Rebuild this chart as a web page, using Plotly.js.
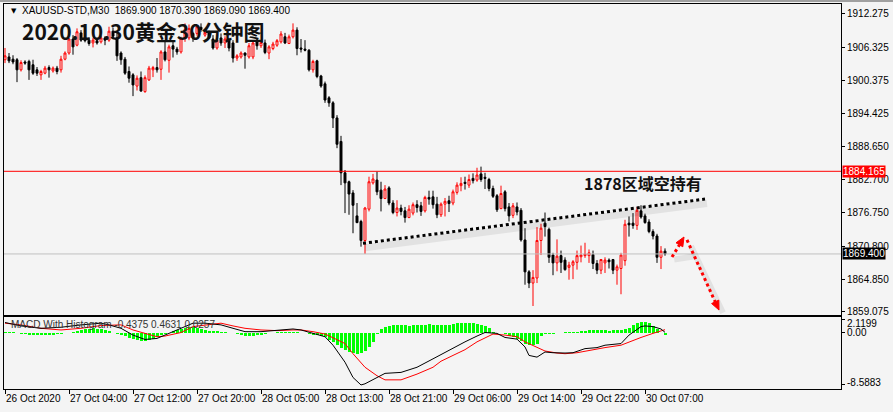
<!DOCTYPE html>
<html><head><meta charset="utf-8">
<script src="https://cdn.plot.ly/plotly-3.0.1.min.js"></script>
<style>html,body{margin:0;padding:0;background:#f4f4f4;}#chart{width:893px;height:412px;}</style>
</head><body><div id="chart"></div>
<script>
// ---- price data (M30 bars, index 0 = 26 Oct 2020 first bar) ----
const openP = [1904.1,1904.6,1904.2,1904.1,1902.3,1903.7,1903.8,1903.2,1902.3,1901.4,1901.7,1902.7,1902.1,1902.6,1902.3,1904.2,1905.3,1907.8,1906.7,1908.9,
1908.0,1907.6,1907.1,1907.5,1907.3,1908.0,1907.6,1909.2,1908.0,1905.3,1904.2,1902.0,1901.4,1899.4,1900.9,1898.4,1900.5,1902.3,1902.7,1902.4,
1905.5,1904.0,1906.6,1906.0,1905.5,1907.9,1908.0,1908.8,1908.8,1909.9,1908.5,1909.0,1907.8,1906.2,1908.0,1907.1,1907.6,1907.1,1904.4,1904.6,
1905.3,1904.6,1904.6,1907.3,1906.6,1907.1,1905.3,1906.1,1906.7,1907.3,1908.2,1907.0,1908.2,1909.4,1906.2,1906.0,1905.8,1902.3,1903.9,1901.2,
1899.8,1897.3,1896.4,1893.7,1889.5,1883.9,1882.3,1880.3,1876.2,1875.2,1871.8,1877.4,1882.1,1882.6,1880.8,1879.3,1881.2,1878.5,1876.8,1877.6,
1877.1,1875.9,1876.7,1878.2,1878.0,1877.1,1879.5,1879.6,1878.3,1876.4,1878.3,1878.9,1878.5,1880.4,1881.6,1882.2,1881.7,1882.9,1882.6,1883.7,
1883.1,1882.7,1881.1,1879.8,1877.5,1880.5,1877.8,1876.3,1877.8,1877.2,1871.9,1866.2,1864.2,1865.1,1871.8,1874.9,1873.8,1869.2,1867.8,1869.1,
1868.3,1867.0,1867.4,1867.9,1868.9,1869.1,1869.1,1869.3,1867.7,1866.5,1867.8,1868.3,1868.4,1866.5,1866.8,1868.2,1874.9,1874.9,1874.5,1877.1,
1876.2,1875.1,1873.4,1872.6,1868.8,1869.9];
const highP = [1906.2,1905.3,1904.9,1904.4,1904.0,1904.0,1904.1,1904.1,1902.8,1902.3,1903.0,1903.1,1902.9,1903.0,1904.8,1905.6,1908.0,1908.5,1909.7,1909.4,
1908.3,1908.1,1908.0,1907.9,1908.4,1908.3,1910.0,1909.8,1908.9,1905.6,1904.6,1902.9,1901.7,1901.3,1902.0,1901.3,1903.0,1903.0,1904.4,1905.8,
1907.3,1906.8,1907.5,1906.4,1908.2,1910.6,1910.4,1909.1,1910.3,1910.6,1909.4,1909.3,1908.5,1908.1,1908.8,1908.3,1908.0,1907.6,1905.1,1905.6,
1905.4,1907.1,1907.6,1908.0,1907.6,1907.7,1906.7,1907.3,1907.8,1909.2,1908.9,1908.6,1910.6,1909.9,1907.8,1907.6,1906.0,1904.1,1904.1,1901.4,
1900.2,1897.6,1896.7,1894.2,1890.5,1884.4,1882.5,1880.8,1878.5,1875.5,1877.8,1883.2,1883.7,1884.1,1882.3,1881.7,1881.5,1879.0,1879.0,1878.2,
1877.8,1878.1,1878.6,1879.0,1878.7,1879.8,1880.7,1880.7,1879.6,1878.6,1879.4,1879.8,1880.9,1882.2,1883.1,1883.2,1883.6,1883.8,1884.8,1885.0,
1883.9,1883.0,1881.6,1880.1,1881.6,1880.8,1878.5,1878.5,1878.6,1877.6,1874.0,1866.5,1866.5,1874.2,1874.8,1876.8,1874.1,1869.6,1872.0,1870.0,
1868.8,1868.0,1868.3,1870.0,1870.9,1871.4,1870.2,1870.0,1868.3,1868.5,1868.8,1868.6,1868.5,1867.5,1869.6,1875.5,1876.1,1876.7,1877.8,1878.1,
1876.6,1875.6,1873.8,1873.0,1870.8,1870.39];
const lowP = [1903.5,1903.5,1903.3,1900.1,1902.0,1903.2,1900.5,1901.4,1901.2,1900.5,1901.5,1900.9,1901.8,1901.5,1901.8,1904.0,1905.0,1905.0,1906.5,1907.3,
1907.2,1906.6,1906.3,1906.8,1907.0,1906.7,1907.3,1907.8,1903.9,1903.2,1901.4,1900.0,1897.6,1898.6,1898.4,1898.2,1900.3,1901.0,1901.8,1900.5,
1903.8,1901.8,1904.5,1905.0,1905.2,1907.3,1907.6,1907.3,1908.4,1909.1,1908.2,1907.8,1905.9,1905.9,1906.6,1906.2,1905.6,1903.6,1903.9,1904.3,
1902.5,1904.3,1904.2,1905.9,1906.2,1905.1,1904.2,1905.8,1906.4,1907.0,1906.9,1906.9,1907.9,1904.9,1905.4,1905.6,1902.0,1901.8,1900.8,1899.1,
1896.4,1895.7,1891.9,1888.3,1881.7,1876.7,1876.4,1873.1,1874.9,1870.7,1869.4,1877.0,1881.8,1879.9,1877.0,1879.2,1878.1,1876.5,1876.1,1876.3,
1875.0,1875.8,1876.3,1876.8,1876.2,1876.8,1878.2,1877.5,1875.8,1876.0,1876.1,1876.9,1878.1,1880.0,1880.6,1880.9,1881.2,1882.0,1882.3,1882.3,
1881.0,1880.6,1879.4,1876.9,1877.4,1877.0,1875.2,1875.8,1876.3,1871.6,1863.9,1863.3,1860.1,1864.2,1869.2,1872.5,1867.8,1865.6,1866.3,1866.0,
1866.4,1864.8,1864.9,1866.6,1867.9,1868.7,1867.8,1866.7,1865.8,1865.8,1866.0,1866.8,1865.8,1863.9,1862.2,1867.3,1872.5,1873.9,1873.7,1875.7,
1874.8,1873.1,1872.0,1867.8,1866.7,1869.09];
const closeP = [1904.8,1903.9,1903.7,1902.3,1903.6,1903.5,1902.3,1901.7,1901.7,1902.0,1902.6,1902.3,1902.6,1902.0,1904.2,1905.3,1907.8,1906.4,1909.1,1907.6,
1907.5,1907.0,1907.6,1907.1,1908.0,1907.6,1909.2,1908.3,1904.8,1904.1,1901.7,1900.8,1899.6,1900.8,1898.5,1900.9,1902.6,1902.7,1902.3,1905.5,
1904.1,1906.4,1906.0,1905.5,1907.9,1909.5,1909.7,1908.0,1910.0,1909.5,1909.0,1908.0,1906.2,1907.6,1907.1,1907.8,1906.2,1904.4,1904.8,1905.3,
1904.9,1906.6,1907.1,1906.6,1907.2,1905.4,1906.4,1906.9,1907.5,1908.7,1907.1,1908.2,1909.4,1906.1,1906.0,1905.8,1902.3,1903.8,1901.1,1899.4,
1896.9,1896.4,1893.7,1889.0,1883.9,1882.1,1880.1,1878.1,1875.0,1871.8,1877.6,1882.3,1882.8,1880.5,1879.3,1881.0,1878.5,1876.8,1877.6,1877.0,
1875.9,1877.4,1878.2,1877.7,1877.0,1879.5,1879.2,1878.2,1876.4,1878.3,1878.8,1878.4,1880.5,1881.7,1882.0,1882.0,1882.7,1882.5,1883.5,1882.7,
1882.9,1881.1,1879.7,1877.3,1880.2,1877.5,1876.2,1878.0,1876.9,1871.9,1866.2,1864.2,1865.2,1871.8,1874.0,1874.3,1868.8,1867.8,1869.0,1867.9,
1866.6,1867.4,1868.0,1869.1,1869.2,1869.4,1869.6,1867.7,1866.5,1868.4,1868.3,1868.0,1866.5,1867.1,1869.2,1874.7,1874.6,1874.5,1877.2,1876.0,
1875.0,1873.4,1872.6,1868.8,1869.9,1869.4];

// ---- MACD panel ----
const histV = [0.1,0.1,0.05,0.0,
-0.2,-0.3,-0.35,-0.4,-0.45,-0.45,-0.45,-0.4,-0.35,-0.3,
-0.2,-0.1,0.0,0.15,
0.3,0.45,0.55,0.65,0.7,0.65,0.55,0.45,
0.2,0.0,-0.2,-0.35,
-0.6,-0.9,-1.1,-1.3,-1.4,-1.45,-1.3,-1.0,
-0.7,-0.45,-0.25,-0.05,
0.2,0.4,0.6,0.75,0.85,0.9,0.8,0.6,0.4,
0.3,0.25,0.2,0.15,0.1,0.0,-0.15,
-0.3,-0.45,-0.55,-0.6,-0.55,-0.45,-0.35,-0.25,
-0.15,-0.05,0.05,0.1,0.15,0.1,0.05,0.05,0.0,-0.05,
-0.2,-0.35,-0.45,-0.55,
-0.8,-1.2,-1.6,-2.1,-2.6,-2.9,-3.2,-3.4,-3.5,-3.4,-3.0,-2.3,-1.5,-0.3,
0.6,0.9,1.1,1.2,1.25,1.2,1.15,1.1,1.15,1.2,1.25,1.3,1.35,1.3,1.25,1.2,1.2,
1.3,1.4,1.5,1.55,1.55,1.55,1.5,1.45,1.3,1.0,0.7,
0.1,0.0,-0.05,
-0.2,-0.5,-0.8,-1.0,-1.4,-1.8,-2.1,-2.1,-1.9,-0.6,-0.3,-0.3,-0.2,
0.0,0.0,0.05,0.05,0.05,0.1,0.2,
0.3,0.35,0.4,0.45,0.4,0.35,0.3,0.35,0.4,0.4,0.5,
0.8,1.2,1.5,1.8,1.8,1.6,
1.0,0.5,-0.1,-0.4375];
const macdIdx = [0,4,9,14,19,24,26,29,32,35,38,40,44,47,50,54,57,60,64,68,72,74,77,80,82,85,87,89,90,93,95,99,103,107,109,112,115,118,120,123,125,128,130,131,133,135,137,140,142,145,148,150,154,156,159,160,162,164,165];
const macdV = [1.64,1.08,0.69,0.86,1.25,1.53,1.25,0.69,-0.42,-1.14,-0.97,-0.42,0.69,1.53,1.53,1.25,0.69,0.14,0.14,0.31,0.58,0.42,-0.14,-0.69,-2.08,-4.86,-7.36,-8.59,-8.4,-7.36,-6.69,-6.53,-5.69,-4.31,-3.6,-2.47,-1.53,-0.58,0,-0.14,-0.81,-1.08,-2.36,-3.75,-4.03,-3.19,-3.31,-3.36,-3.31,-2.64,-2.47,-2.08,-1.81,-0.42,0.97,1.08,0.97,0.58,0.0257];
const sigIdx = [0,4,9,14,19,24,29,32,35,38,40,44,47,50,54,57,60,64,68,72,74,77,80,82,85,87,90,93,95,99,103,107,109,112,115,118,121,122,125,128,130,133,135,138,140,143,146,150,154,156,159,162,164,165];
const sigV = [1.53,1.25,0.69,0.42,0.69,1.14,1.25,0.42,-0.14,-0.69,-0.58,0,0.97,1.25,1.53,1.08,0.69,0.42,0.31,0.42,0.42,0.14,-0.25,-0.86,-1.81,-3.47,-5.69,-7.08,-7.75,-7.75,-6.81,-5.69,-4.7,-3.75,-2.81,-1.53,-0.58,-0.25,-0.42,-0.69,-1.53,-2.36,-3.03,-3.36,-3.47,-3.31,-2.92,-2.47,-2.08,-1.53,-0.81,-0.14,0.3,0.4631];

// ---- axis labels ----
const timeTickIdx = [0,16,32,48,64,80,96,112,128,144,160];
const timeTickText = ['26 Oct 2020','27 Oct 04:00','27 Oct 12:00','27 Oct 20:00','28 Oct 05:00','28 Oct 13:00','28 Oct 21:00','29 Oct 06:00','29 Oct 14:00','29 Oct 22:00','30 Oct 07:00'];
const priceTicks = [1912.275,1906.325,1900.375,1894.425,1888.650,1882.700,1876.750,1870.800,1864.850,1859.075];
const priceTickText = ['1912.275','1906.325','1900.375','1894.425','1888.650','1882.700','1876.750','1870.800','1864.850','1859.075'];
const macdTicks = [2.1199,0,-8.5883];
const macdTickText = ['2.1199','0.00','-8.5883'];
const redLevel = 1884.165, bidLevel = 1869.400;
const trendFrom = [89.5,1871.3], trendTo = [175,1879.2];

const idx = closeP.map((_,i)=>i);
const hIdx = histV.map((_,i)=>i);
const F = 'Liberation Sans, Arial, sans-serif';
const CJK = 'Noto Sans CJK SC, sans-serif';

const traces = [
 {type:'bar', x:hIdx, y:histV, xaxis:'x', yaxis:'y2', width:0.75, marker:{color:'#00ff00', line:{width:0}}, hoverinfo:'skip'},
 {type:'scatter', mode:'lines', x:sigIdx, y:sigV, xaxis:'x', yaxis:'y2', line:{color:'#ff0000', width:1}, hoverinfo:'skip'},
 {type:'scatter', mode:'lines', x:macdIdx, y:macdV, xaxis:'x', yaxis:'y2', line:{color:'#000000', width:1}, hoverinfo:'skip'},
 {type:'candlestick', x:idx, open:openP, high:highP, low:lowP, close:closeP, xaxis:'x2', yaxis:'y',
  whiskerwidth:0,
  increasing:{line:{color:'#ff0000', width:1}, fillcolor:'#f4f4f4'},
  decreasing:{line:{color:'#000000', width:1}, fillcolor:'#000000'}, hoverinfo:'skip'}
];

// MACD scale labels sit where the reference draws them (pixel rows 323.7, 332.7, 382.3)
const macdLabelY = [(389-323.7)/385, (389-332.7)/385, (389-382.3)/385];

const annotations = [
 {xref:'paper', yref:'paper', x:0.0191, y:0.982, xanchor:'left', yanchor:'middle', showarrow:false,
  text:'XAUUSD-STD,M30&nbsp; 1869.900 1870.390 1869.090 1869.400', font:{family:F, size:10, color:'#000'}},
 {xref:'paper', yref:'paper', x:0.0055, y:0.982, xanchor:'left', yanchor:'middle', showarrow:false,
  text:'▼', font:{family:'DejaVu Sans', size:7, color:'#000'}},
 {xref:'paper', yref:'paper', x:0.0191, y:0.93, xanchor:'left', yanchor:'middle', showarrow:false,
  text:'2020.10.30黄金30分钟图', font:{family:CJK, size:21, color:'#111', weight:'bold'}},
 {xref:'paper', yref:'paper', x:0.7634, y:0.535, xanchor:'center', yanchor:'middle', showarrow:false,
  text:'1878区域空持有', font:{family:CJK, size:16, color:'#111', weight:'bold'}},
 {xref:'paper', yref:'paper', x:0.006, y:0.1688, xanchor:'left', yanchor:'middle', showarrow:false,
  text:'MACD With Histogram -0.4375 0.4631 0.0257', font:{family:F, size:10, color:'#333'}},
 {xref:'paper', yref:'y', x:1, y:redLevel, xanchor:'left', yanchor:'middle', xshift:1, showarrow:false,
  text:'1884.165', bgcolor:'#ff0000', borderpad:0, font:{family:F, size:10, color:'#fff'}},
 {xref:'paper', yref:'y', x:1, y:bidLevel, xanchor:'left', yanchor:'middle', xshift:1, showarrow:false,
  text:'1869.400', bgcolor:'#000000', borderpad:0, font:{family:F, size:10, color:'#fff'}}
];
macdTickText.forEach((t,i)=>annotations.push({xref:'paper', yref:'paper', x:1, y:macdLabelY[i], xanchor:'left', yanchor:'middle',
  xshift:4, showarrow:false, text:t, font:{family:F, size:10, color:'#000'}}));
timeTickIdx.forEach((k,i)=>annotations.push({xref:'x', yref:'paper', x:k, y:-0.0234, xanchor:'left', yanchor:'middle', xshift:-1,
  showarrow:false, text:timeTickText[i], font:{family:F, size:10, color:'#000'}}));

const shapes = [
 {type:'line', xref:'paper', yref:'y', x0:0, x1:1, y0:redLevel, y1:redLevel, line:{color:'#ff0000', width:1}},
 {type:'line', xref:'paper', yref:'y', x0:0, x1:1, y0:bidLevel, y1:bidLevel, line:{color:'#c0c0c0', width:1}},
 {type:'line', xref:'x2', yref:'y', x0:trendFrom[0]+0.5, y0:trendFrom[1]-0.8, x1:trendTo[0]+0.5, y1:trendTo[1]-0.8, line:{color:'rgba(0,0,0,0.07)', width:7}},
 {type:'line', xref:'x2', yref:'y', x0:trendFrom[0], y0:trendFrom[1], x1:trendTo[0], y1:trendTo[1], line:{color:'#000', width:3, dash:'dot'}},
 // red forecast arrows (shadow, dotted shafts, heads)
 {type:'line', xref:'x2', yref:'y', x0:167.3, y0:1868.4, x1:172.5, y1:1869.0, line:{color:'rgba(0,0,0,0.07)', width:6}},
 {type:'line', xref:'x2', yref:'y', x0:171.5, y0:1870.8, x1:179.5, y1:1858.9, line:{color:'rgba(0,0,0,0.07)', width:6}},
 {type:'line', xref:'x2', yref:'y', x0:166.75, y0:1868.85, x1:168.6, y1:1871.0, line:{color:'#ff0000', width:3, dash:'dot'}},
 {type:'line', xref:'x2', yref:'y', x0:170.5, y0:1871.9, x1:177.55, y1:1860.85, line:{color:'#ff0000', width:3, dash:'dot'}},
 {type:'path', xref:'x2', yref:'y', path:'M 169.75 1872.43 L 169.45 1870.68 L 167.75 1871.39 Z', fillcolor:'#ff0000', line:{color:'#ff0000', width:1}},
 {type:'path', xref:'x2', yref:'y', path:'M 178.5 1859.38 L 178.45 1861.15 L 176.65 1860.54 Z', fillcolor:'#ff0000', line:{color:'#ff0000', width:1}},
 {type:'rect', xref:'paper', yref:'paper', x0:-0.01, x1:1.07, y0:1.0052, y1:1.0104, fillcolor:'#a0a0a0', line:{width:0}}
];

const layout = {
 width:893, height:412, margin:{l:4, r:52, t:4, b:23, pad:0},
 paper_bgcolor:'#f4f4f4', plot_bgcolor:'#f4f4f4', showlegend:false, bargap:0,
 xaxis:{domain:[0,1], anchor:'y2', range:[-0.25,209], showgrid:false, zeroline:false, showline:true, mirror:true,
   linecolor:'#000', linewidth:1, ticks:'outside', ticklen:4, tickcolor:'#000', tickvals:timeTickIdx, showticklabels:false, fixedrange:true},
 xaxis2:{matches:'x', anchor:'y', range:[-0.25,209], showgrid:false, zeroline:false, showline:true, mirror:true,
   linecolor:'#000', linewidth:1, ticks:'', showticklabels:false, rangeslider:{visible:false}, fixedrange:true},
 yaxis:{domain:[0.1922,1], anchor:'x2', side:'right', range:[1858.49,1914.06], showgrid:false, zeroline:false,
   showline:true, mirror:true, linecolor:'#000', linewidth:1, ticks:'outside', ticklen:3, tickcolor:'#000',
   tickvals:priceTicks, ticktext:priceTickText, tickfont:{family:F, size:10, color:'#000'}},
 yaxis2:{domain:[0,0.187], anchor:'x', side:'right', range:[-9.25,2.54], showgrid:false, zeroline:false,
   showline:true, mirror:true, linecolor:'#000', linewidth:1, ticks:'outside', ticklen:3, tickcolor:'#000',
   tickvals:macdTicks, showticklabels:false},
 annotations:annotations, shapes:shapes
};
Plotly.newPlot('chart', traces, layout, {staticPlot:true, displayModeBar:false});
</script></body></html>
